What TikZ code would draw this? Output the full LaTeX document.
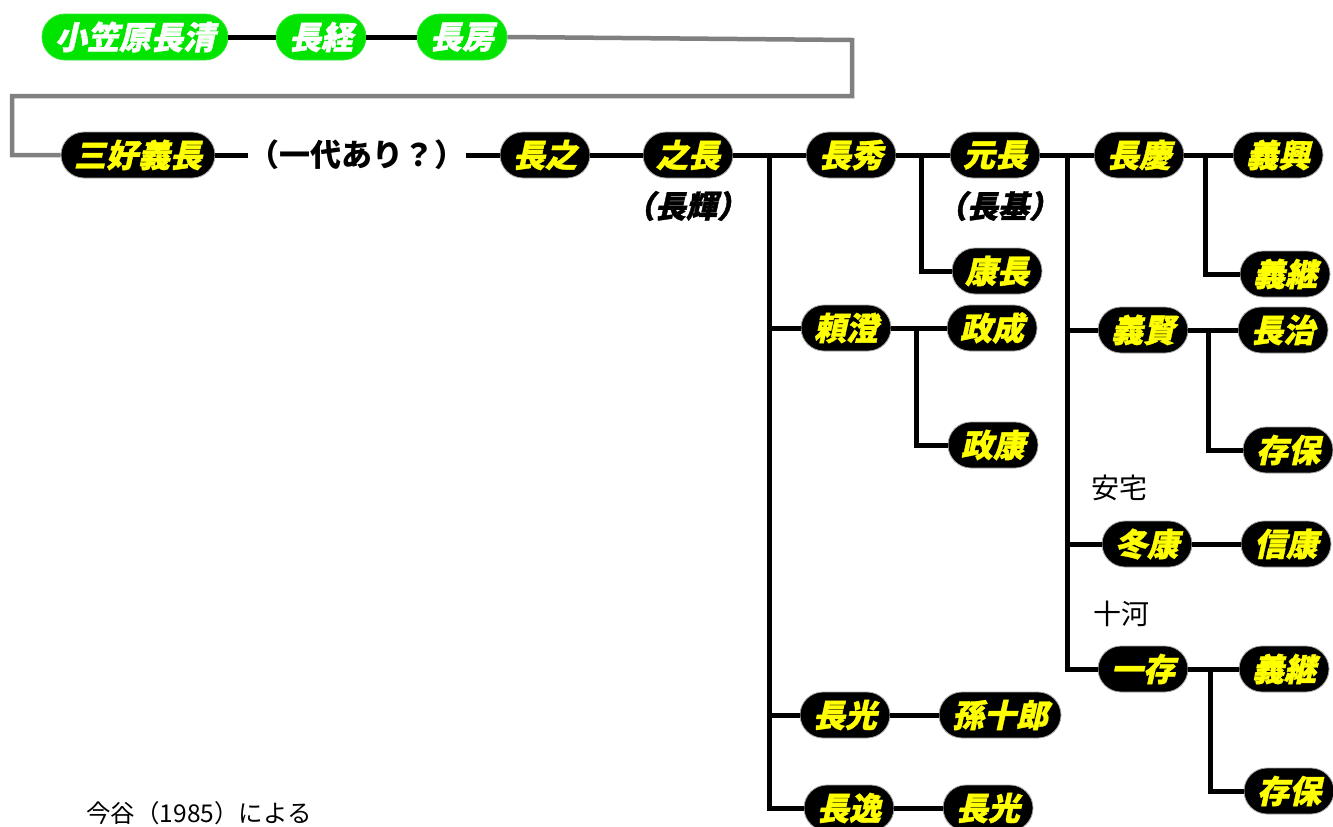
\documentclass[tikz,border=0pt]{standalone}
\usepackage{fontspec}
\setmainfont{Noto Sans CJK JP}
\newfontfamily\jp{Noto Sans CJK JP}
\newfontfamily\jpbi{Noto Sans CJK JP}[FakeSlant=0.22, BoldFeatures={FakeBold=1.2}]
\definecolor{pillgreen}{RGB}{0,228,0}
\definecolor{pillyellow}{RGB}{255,255,0}
\definecolor{linegray}{RGB}{128,128,128}
\tikzset{
  pill/.style={draw=gray!70, line width=0.8pt, fill=black, text=pillyellow,
    rounded corners=23pt, minimum height=46pt, inner xsep=13pt, inner ysep=0pt,
    font=\jpbi\bfseries\fontsize{32}{32}\selectfont},
  gpill/.style={pill, fill=pillgreen, draw=pillgreen!80!white, text=white},
  note/.style={inner sep=0pt, font=\jp\bfseries\fontsize{31}{31}\selectfont},
  inote/.style={inner sep=0pt, font=\jpbi\bfseries\fontsize{31}{31}\selectfont},
  plain/.style={inner sep=0pt, font=\jp\fontsize{28}{28}\selectfont},
  link/.style={line width=5pt, draw=black},
  glink/.style={line width=4.5pt, draw=linegray},
}
\begin{document}
\begin{tikzpicture}[x=1pt,y=-1pt]
\useasboundingbox (0,0) rectangle (1333,827);
% nodes
\node[gpill] (a1) at (135,37) {小笠原長清};
\node[gpill] (a2) at (321,37) {長経};
\node[gpill] (a3) at (462,37) {長房};
\node[pill] (b1) at (138,155) {三好義長};
\node[note] (t1) at (357,155) {（一代あり？）};
\node[pill] (b2) at (545,155) {長之};
\node[pill] (b3) at (688,155) {之長};
\node[inote] (n1) at (686,206) {（長輝）};
\node[pill] (c1) at (851,155) {長秀};
\node[pill] (c2) at (846,328) {頼澄};
\node[pill] (c3) at (845,715) {長光};
\node[pill] (c4) at (849,808) {長逸};
\node[pill] (d1) at (995,155) {元長};
\node[inote] (n2) at (998,206) {（長基）};
\node[pill] (d2) at (997,271) {康長};
\node[pill] (d3) at (992,328) {政成};
\node[pill] (d4) at (993,445) {政康};
\node[pill] (d5) at (1000,715) {孫十郎};
\node[pill] (d6) at (988,808) {長光};
\node[pill] (e1) at (1139,155) {長慶};
\node[pill] (e2) at (1143,330) {義賢};
\node[plain] (t2) at (1119,488) {安宅};
\node[pill] (e3) at (1147,544) {冬康};
\node[plain] (t3) at (1121,614) {十河};
\node[pill] (e4) at (1143,669) {一存};
\node[pill] (f1) at (1278,155) {義興};
\node[pill] (f2) at (1285,274) {義継};
\node[pill] (f3) at (1283,330) {長治};
\node[pill] (f4) at (1288,450) {存保};
\node[pill] (f5) at (1286,544) {信康};
\node[pill] (f6) at (1284,669) {義継};
\node[pill] (f7) at (1289,791) {存保};
\node[plain, font=\jp\fontsize{24.5}{24.5}\selectfont] (src) at (199,813) {今谷（1985）による};
% junction coordinates
\coordinate (g1) at (852,40);
\coordinate (g2) at (852,96);
\coordinate (g3) at (12,96);
\coordinate (k1) at (769,155);
\coordinate (k2) at (921,155);
\coordinate (k3) at (916,328);
\coordinate (k4) at (1067,155);
\coordinate (k5) at (1205,155);
\coordinate (k6) at (1208,330);
\coordinate (k7) at (1210,669);
% connectors
\draw[link] (a1.east) -- (a2.west);
\draw[link] (a2.east) -- (a3.west);
\draw[glink] (a3.east) -- (g1) -- (g2) -- (g3) |- (b1.west);
\draw[link] (b1.east) -- (t1.west);
\draw[link] (t1.east) -- (b2.west);
\draw[link] (b2.east) -- (b3.west);
\draw[link] (b3.east) -- (c1.west);
\draw[link] (k1) |- (c2.west);
\draw[link] (k1) |- (c3.west);
\draw[link] (k1) |- (c4.west);
\draw[link] (c1.east) -- (d1.west);
\draw[link] (k2) |- (d2.west);
\draw[link] (c2.east) -- (d3.west);
\draw[link] (k3) |- (d4.west);
\draw[link] (c3.east) -- (d5.west);
\draw[link] (c4.east) -- (d6.west);
\draw[link] (d1.east) -- (e1.west);
\draw[link] (k4) |- (e2.west);
\draw[link] (k4) |- (e3.west);
\draw[link] (k4) |- (e4.west);
\draw[link] (e1.east) -- (f1.west);
\draw[link] (k5) |- (f2.west);
\draw[link] (e2.east) -- (f3.west);
\draw[link] (k6) |- (f4.west);
\draw[link] (e3.east) -- (f5.west);
\draw[link] (e4.east) -- (f6.west);
\draw[link] (k7) |- (f7.west);
\end{tikzpicture}
\end{document}
